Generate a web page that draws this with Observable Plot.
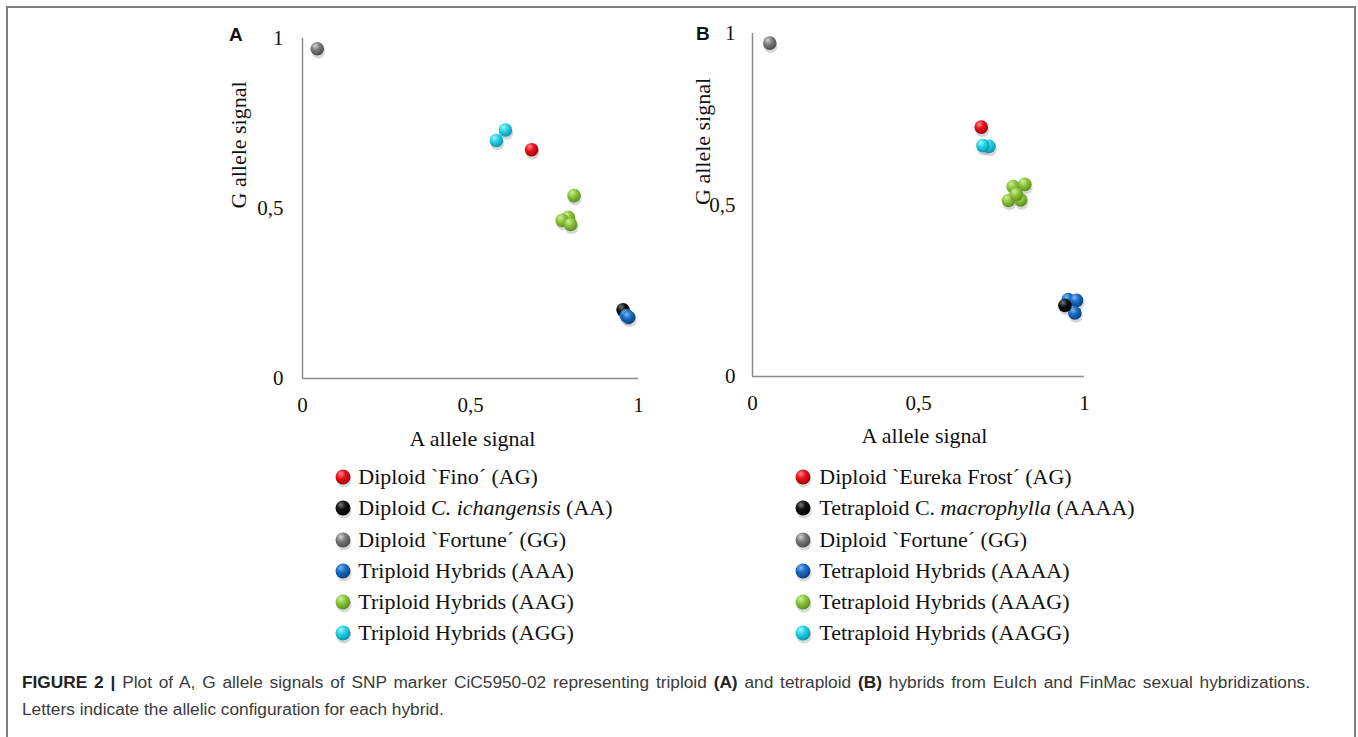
<!DOCTYPE html>
<html><head><meta charset="utf-8">
<script src="https://cdn.jsdelivr.net/npm/d3@7"></script>
<script src="https://cdn.jsdelivr.net/npm/@observablehq/plot@0.6"></script>
<style>
body{margin:0;background:#fff;width:1358px;height:737px;overflow:hidden;position:relative;font-family:"Liberation Serif","Times New Roman",serif;}
#border{position:absolute;left:6px;top:6px;width:1350px;height:780px;border:2px solid #808080;box-sizing:border-box;}
.panel{position:absolute;}
.letter{position:absolute;font-family:"Liberation Sans",Arial,sans-serif;font-weight:bold;font-size:19px;color:#111;line-height:1;}
.legend{position:absolute;}
.row{position:absolute;left:0;height:31px;white-space:nowrap;font-size:22px;color:#111;}
.row svg{position:absolute;left:-9px;top:-9px;}
.row span{position:absolute;top:-13px;line-height:26px;}
#caption{position:absolute;left:22px;top:669px;width:1288px;font-family:"Liberation Sans",Arial,sans-serif;font-size:17.3px;line-height:27px;color:#3a3a3a;}
#caption b{color:#222;}
#cap1{text-align:justify;text-align-last:justify;}
</style></head><body>
<div id="border"></div>
<svg width="0" height="0" style="position:absolute">
  <defs id="defs"></defs>
</svg>
<div id="root"></div>
<div id="caption"><div id="cap1"><b>FIGURE 2 |</b> Plot of A, G allele signals of SNP marker CiC5950-02 representing triploid <b>(A)</b> and tetraploid <b>(B)</b> hybrids from EuIch and FinMac sexual hybridizations.</div><div>Letters indicate the allelic configuration for each hybrid.</div></div>
<script>
// ---- data ----
const groupKeys = ["red", "black", "gray", "blue", "green", "cyan"];
const groupColors = ["#e8101a", "#101010", "#7b7b7b", "#1a6cc2", "#8cc63c", "#22d0e6"];
const groupHighlights = ["#ff8a8a", "#7a7a7a", "#d4d4d4", "#7ab6f2", "#d2f09a", "#a8f6ff"];
const groupShades = ["#9a0008", "#000000", "#4a4a4a", "#0a3f7e", "#5b8c1e", "#0a93ab"];

const legendA = ["Diploid `Fino´ (AG)", "Diploid C. ichangensis (AA)", "Diploid `Fortune´ (GG)", "Triploid Hybrids (AAA)", "Triploid Hybrids (AAG)", "Triploid Hybrids (AGG)"];
const legendAItalic = [null, "C. ichangensis", null, null, null, null];
const legendB = ["Diploid `Eureka Frost´ (AG)", "Tetraploid C. macrophylla (AAAA)", "Diploid `Fortune´ (GG)", "Tetraploid Hybrids (AAAA)", "Tetraploid Hybrids (AAAG)", "Tetraploid Hybrids (AAGG)"];
const legendBItalic = [null, "macrophylla", null, null, null, null];

const tickValues = [0, 0.5, 1];
const tickLabels = ["0", "0,5", "1"];

// Panel A (triploid)
const groupA = ["gray", "cyan", "cyan", "red", "green", "green", "green", "green", "black", "blue", "blue"];
const aSignalA = [0.044, 0.604, 0.577, 0.682, 0.808, 0.791, 0.773, 0.798, 0.954, 0.964, 0.971];
const gSignalA = [0.970, 0.731, 0.700, 0.673, 0.538, 0.474, 0.465, 0.453, 0.202, 0.185, 0.180];

// Panel B (tetraploid)
const groupB = ["gray", "red", "cyan", "cyan", "green", "green", "green", "green", "green", "blue", "blue", "blue", "black"];
const aSignalB = [0.052, 0.689, 0.712, 0.694, 0.771, 0.808, 0.785, 0.820, 0.795, 0.951, 0.976, 0.971, 0.941];
const gSignalB = [0.972, 0.727, 0.671, 0.673, 0.513, 0.515, 0.554, 0.560, 0.531, 0.224, 0.222, 0.185, 0.207];

// ---- gradients for sphere look ----
const defs = d3.select("#defs");
groupKeys.forEach((k, i) => {
  const g = defs.append("radialGradient").attr("id", "sph-" + k)
    .attr("cx", "38%").attr("cy", "32%").attr("r", "70%").attr("fx", "35%").attr("fy", "28%");
  g.append("stop").attr("offset", "0%").attr("stop-color", groupHighlights[i]);
  g.append("stop").attr("offset", "45%").attr("stop-color", groupColors[i]);
  g.append("stop").attr("offset", "100%").attr("stop-color", groupShades[i]);
});

const fmt = d => tickLabels[tickValues.indexOf(d)];

function panel(xs, ys, gs, o) {
  const data = xs.map((x, i) => ({x, y: ys[i], g: gs[i]}));
  return Plot.plot({
    width: o.width, height: o.height,
    marginLeft: o.ml, marginRight: o.mr, marginTop: o.mt, marginBottom: o.mb,
    x: {domain: [0, 1]},
    y: {domain: [0, 1]},
    color: {type: "identity"},
    style: {fontFamily: "'Liberation Serif', 'Times New Roman', serif", fontSize: "21px", color: "#111", background: "transparent", overflow: "visible"},
    marks: [
      Plot.ruleX([0], {stroke: "#8a8a8a", strokeWidth: 1.5}),
      Plot.ruleY([0], {stroke: "#8a8a8a", strokeWidth: 1.5}),
      Plot.axisX({ticks: tickValues, tickSize: 0, tickPadding: 19, tickFormat: fmt, label: null}),
      Plot.axisY({ticks: tickValues, tickSize: 0, tickPadding: o.yPad, tickFormat: fmt, label: null}),
      Plot.dot(data, {x: "x", y: "y", r: 6.8, fill: "#000", fillOpacity: 0.16, dx: 1, dy: 3}),
      Plot.dot(data, {x: "x", y: "y", r: 6.8, fill: d => "url(#sph-" + d.g + ")"}),
      Plot.text(["A allele signal"], {frameAnchor: "bottom", dy: o.xTitleDy, dx: o.xTitleDx, fontSize: 22}),
      Plot.text(["G allele signal"], {frameAnchor: "left", dx: o.yTitleDx, rotate: -90, fontSize: 22})
    ]
  });
}

const root = document.getElementById("root");
function place(el, left, top) {
  const d = document.createElement("div");
  d.className = "panel"; d.style.left = left + "px"; d.style.top = top + "px";
  d.appendChild(el); root.appendChild(d);
}
place(panel(aSignalA, gSignalA, groupA, {width: 438, height: 438, ml: 82, mr: 20, mt: 18, mb: 80, yPad: 19, xTitleDy: 67, xTitleDx: 2, yTitleDx: -64}), 220, 20);
place(panel(aSignalB, gSignalB, groupB, {width: 414, height: 441, ml: 62, mr: 20, mt: 18, mb: 80, yPad: 17, xTitleDy: 66, xTitleDx: 6, yTitleDx: -49.5}), 690, 15);

function letter(t, x, y) {
  const d = document.createElement("div");
  d.className = "letter"; d.textContent = t; d.style.left = x + "px"; d.style.top = y + "px";
  root.appendChild(d);
}
letter("A", 229, 25);
letter("B", 696, 24);

function legend(labels, italics, left, top, textLeft) {
  const box = document.createElement("div");
  box.className = "legend"; box.style.left = left + "px"; box.style.top = top + "px";
  labels.forEach((lab, i) => {
    const row = document.createElement("div");
    row.className = "row"; row.style.top = (i * 31.2) + "px";
    const k = groupKeys[i];
    row.innerHTML = `<svg width="20" height="20"><ellipse cx="10" cy="12" rx="7.5" ry="7.5" fill="#000" fill-opacity="0.15"/><circle cx="9" cy="9" r="7.5" fill="url(#sph-${k})"/></svg>`;
    const span = document.createElement("span");
    span.style.left = textLeft + "px";
    const it = italics[i];
    if (it) {
      const p = lab.indexOf(it);
      span.append(lab.slice(0, p));
      const em = document.createElement("i"); em.textContent = it; span.append(em);
      span.append(lab.slice(p + it.length));
    } else span.textContent = lab;
    row.appendChild(span);
    box.appendChild(row);
  });
  root.appendChild(box);
}
legend(legendA, legendAItalic, 342.7, 477.3, 15.6);
legend(legendB, legendBItalic, 803, 477.3, 16.3);
</script>
</body></html>
